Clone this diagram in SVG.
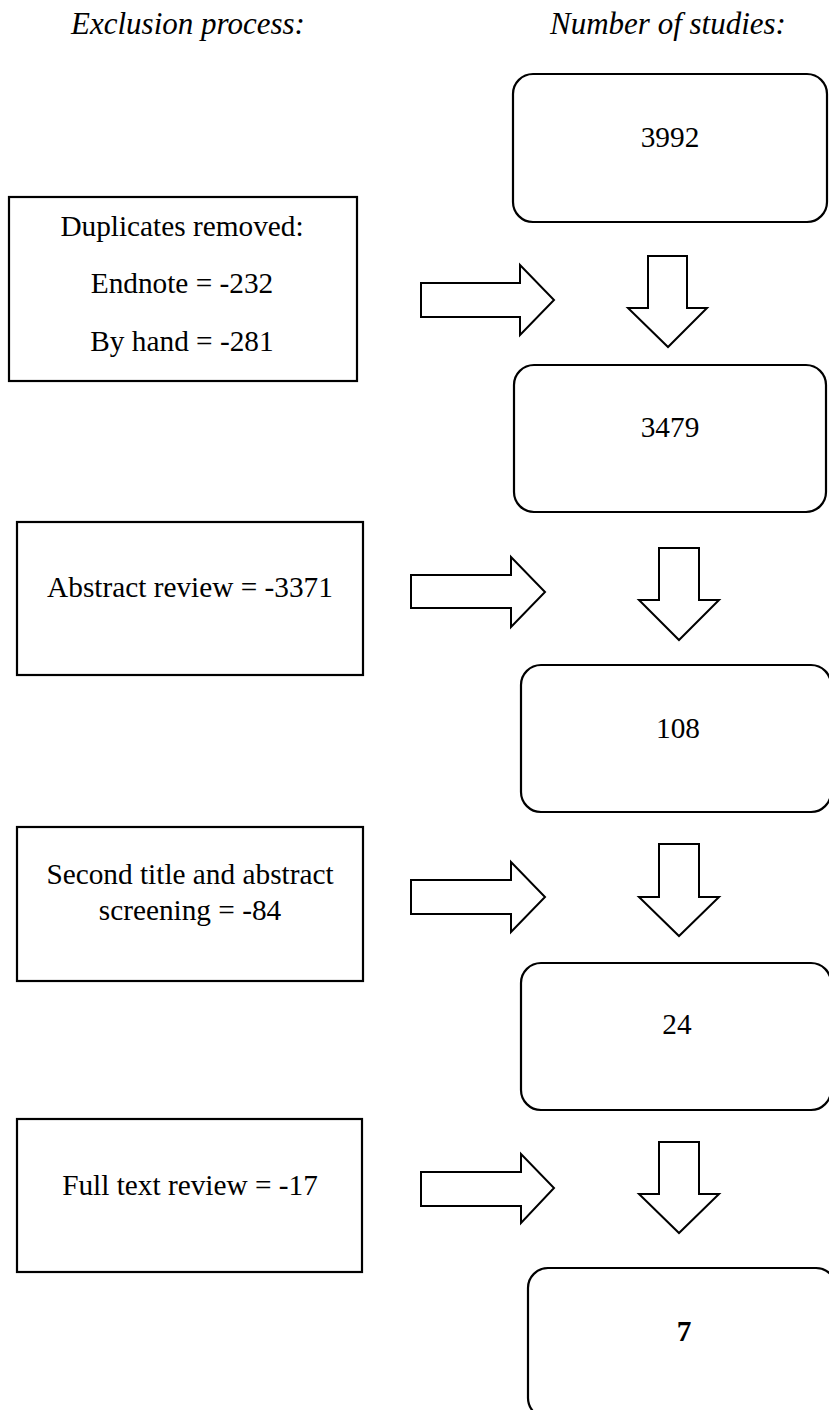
<svg xmlns="http://www.w3.org/2000/svg" width="829" height="1410" viewBox="0 0 829 1410">
<style>
  .bg { fill: #ffffff; }
  .count { fill: #ffffff; stroke: #000000; stroke-width: 2.2; }
  .excl { fill: #ffffff; stroke: #000000; stroke-width: 2.2; }
  .arrow { fill: #ffffff; stroke: #000000; stroke-width: 2; stroke-linejoin: miter; }
  text { font-family: "Liberation Serif", "Times New Roman", serif; fill: #000000; font-size: 29.3px; }
  .hdr { font-style: italic; font-size: 31px; }
  .c { text-anchor: middle; }
  .b { font-weight: bold; }
</style>
<rect class="bg" x="0" y="0" width="829" height="1410"/>
<g id="headers">
  <text class="hdr" x="71" y="34">Exclusion process:</text>
  <text class="hdr" x="550" y="34">Number of studies:</text>
</g>
<g id="n3992">
  <rect class="count" x="513" y="74" width="314" height="148" rx="20" ry="20"/>
  <text class="c" x="670" y="147">3992</text>
</g>
<g id="n3479">
  <rect class="count" x="514" y="365" width="312" height="147" rx="20" ry="20"/>
  <text class="c" x="670" y="437">3479</text>
</g>
<g id="n108">
  <rect class="count" x="521" y="665" width="310" height="147" rx="20" ry="20"/>
  <text class="c" x="678" y="738">108</text>
</g>
<g id="n24">
  <rect class="count" x="521" y="963" width="310" height="147" rx="20" ry="20"/>
  <text class="c" x="677" y="1034">24</text>
</g>
<g id="n7">
  <rect class="count" x="528" y="1268" width="308" height="150" rx="20" ry="20"/>
  <text class="c b" x="684" y="1341">7</text>
</g>
<g id="duplicates">
  <rect class="excl" x="9" y="197" width="348" height="184"/>
  <text class="c" x="182" y="236">Duplicates removed:</text>
  <text class="c" x="182" y="293">Endnote = -232</text>
  <text class="c" x="182" y="351">By hand = -281</text>
</g>
<g id="abstract">
  <rect class="excl" x="17" y="522" width="346" height="153"/>
  <text class="c" x="190" y="597">Abstract review = -3371</text>
</g>
<g id="second">
  <rect class="excl" x="17" y="827" width="346" height="154"/>
  <text class="c" x="190" y="884">Second title and abstract</text>
  <text class="c" x="190" y="920">screening = -84</text>
</g>
<g id="fulltext">
  <rect class="excl" x="17" y="1119" width="345" height="153"/>
  <text class="c" x="190" y="1195">Full text review = -17</text>
</g>
<g id="connectors">
  <polygon class="arrow" points="421,283 520,283 520,265 554,300 520,335 520,317 421,317"/>
  <polygon class="arrow" points="648,256 687,256 687,308 707,308 668,347 628,308 648,308"/>
  <polygon class="arrow" points="411,575 511,575 511,557 545,592 511,627 511,608 411,608"/>
  <polygon class="arrow" points="659,548 699,548 699,600 719,600 679,640 639,600 659,600"/>
  <polygon class="arrow" points="411,880 511,880 511,862 545,897 511,932 511,914 411,914"/>
  <polygon class="arrow" points="659,844 699,844 699,897 719,897 679,936 639,897 659,897"/>
  <polygon class="arrow" points="421,1172 521,1172 521,1154 554,1188 521,1223 521,1206 421,1206"/>
  <polygon class="arrow" points="659,1142 699,1142 699,1194 719,1194 679,1233 639,1194 659,1194"/>
</g>
</svg>
